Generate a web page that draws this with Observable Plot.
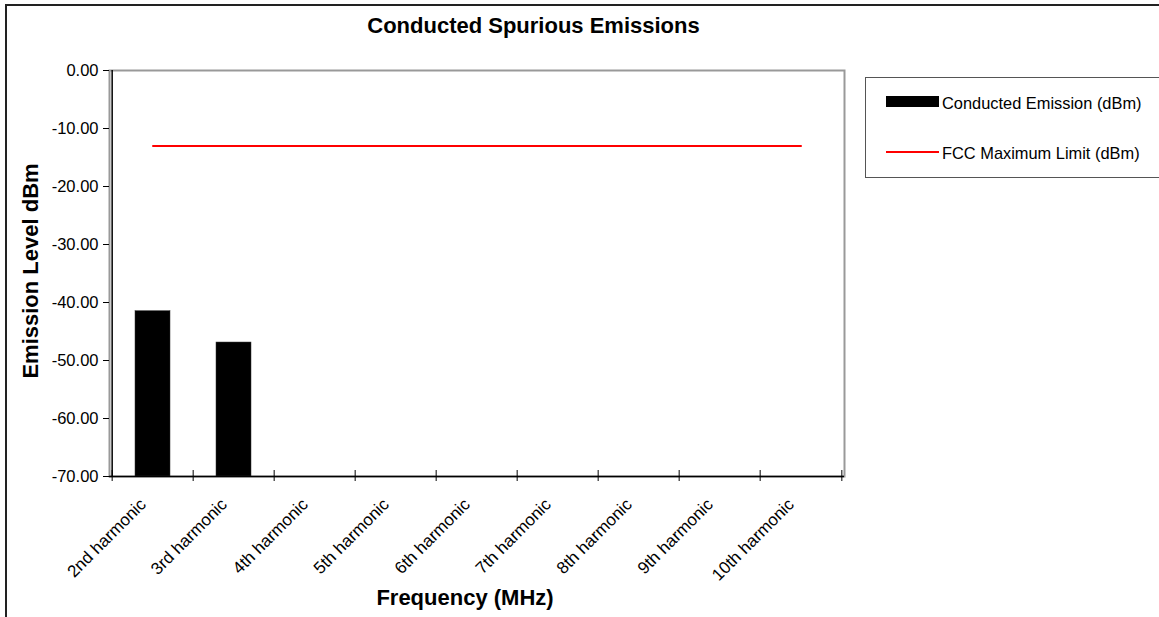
<!DOCTYPE html>
<html><head><meta charset="utf-8">
<script src="https://cdn.jsdelivr.net/npm/d3@7"></script>
<script src="https://cdn.jsdelivr.net/npm/@observablehq/plot@0.6"></script>
<style>
body{margin:0;overflow:hidden;background:#fff;font-family:"Liberation Sans",Arial,sans-serif;color:#000;}
#wrap{position:relative;width:1159px;height:617px;overflow:hidden;}
#border{position:absolute;left:5px;top:4px;width:1200px;height:640px;border:2px solid #222;box-sizing:border-box;pointer-events:none;}
.t{position:absolute;white-space:nowrap;line-height:1;}
#title{left:0;width:1067px;text-align:center;top:14.5px;font-weight:bold;font-size:22px;}
#xtitle{left:0;width:930px;text-align:center;top:586.5px;font-weight:bold;font-size:22px;}
#ytitle{left:30.5px;top:271px;font-weight:bold;font-size:22px;transform:translate(-50%,-50%) rotate(-90deg);}
#legend{position:absolute;left:865px;top:77px;width:330px;height:101px;border:1.5px solid #555;box-sizing:border-box;}
.sw{position:absolute;}
.lt{position:absolute;font-size:16.4px;line-height:1;white-space:nowrap;}
#chart{position:absolute;left:0;top:0;}
</style></head><body>
<div id="wrap">
  <div id="chart"></div>
  <div id="border"></div>
  <div class="t" id="title">Conducted Spurious Emissions</div>
  <div class="t" id="ytitle">Emission Level dBm</div>
  <div class="t" id="xtitle">Frequency (MHz)</div>
  <div id="legend"></div>
</div>
<script>
const harmonics = ["2nd harmonic","3rd harmonic","4th harmonic","5th harmonic","6th harmonic","7th harmonic","8th harmonic","9th harmonic","10th harmonic"];
const emission = [-41.5, -46.9, null, null, null, null, null, null, null];
const fccLimit = [-13, -13, -13, -13, -13, -13, -13, -13, -13];
const yTicks = [0, -10, -20, -30, -40, -50, -60, -70];
const yDomain = [-70, 0];
const seriesNames = ["Conducted Emission (dBm)", "FCC Maximum Limit (dBm)"];
const seriesColors = ["#000000", "#ff0000"];

const rows = harmonics.map((h, i) => ({h, emission: emission[i], limit: fccLimit[i]}));

const W = 1159, H = 617, mL = 109, mT = 70, mR = 315, mB = 141;
const step = (W - mL - mR) / harmonics.length;

const plot = Plot.plot({
  width: W, height: H,
  marginLeft: mL, marginTop: mT, marginRight: mR, marginBottom: mB,
  style: {fontFamily: "'Liberation Sans', Arial, sans-serif", fontSize: "16px", background: "transparent", color: "#000"},
  x: {domain: harmonics, type: "band", paddingInner: 0.571, paddingOuter: 0.2855, axis: null},
  y: {domain: yDomain, axis: null},
  marks: [
    Plot.frame({stroke: "#999", strokeWidth: 2}),
    Plot.barY(rows.filter(d => d.emission != null), {x: "h", y1: yDomain[0], y2: "emission", fill: seriesColors[0], stroke: "#333", strokeWidth: 0.5}),
    Plot.ruleY([yDomain[0]], {stroke: "#000", strokeWidth: 1.5}),
    Plot.ruleX([harmonics[0]], {x: d => d, dx: -step / 2, stroke: "#000", strokeWidth: 1.5}),
    Plot.ruleX(harmonics, {x: d => d, y1: yDomain[0], y2: yDomain[0], insetTop: -6, insetBottom: -5, dx: -step / 2, stroke: "#000", strokeWidth: 1}),
    Plot.ruleX([harmonics[harmonics.length - 1]], {x: d => d, y1: yDomain[0], y2: yDomain[0], insetTop: -6, insetBottom: -5, dx: step / 2, stroke: "#000", strokeWidth: 1}),
    Plot.axisY({ticks: yTicks, tickSize: 6, tickPadding: 5, tickFormat: d => d.toFixed(2), fontSize: 16.5, label: null, anchor: "left", stroke: "#000", fill: "#000"}),
    Plot.lineY(rows, {x: "h", y: "limit", stroke: seriesColors[1], strokeWidth: 2}),
    Plot.text(harmonics, {x: d => d, frameAnchor: "bottom", rotate: -45, textAnchor: "end", dx: -6, dy: 29, fontSize: 17, fill: "#000"})
  ]
});
document.getElementById("chart").appendChild(plot);

// legend
const lg = document.getElementById("legend");
seriesNames.forEach((name, i) => {
  const sw = document.createElement("div");
  sw.className = "sw";
  sw.style.left = (885 - 865) + "px";
  sw.style.width = "53px";
  sw.style.background = seriesColors[i];
  if (i === 0) { sw.style.top = (96 - 78) + "px"; sw.style.height = "11px"; }
  else { sw.style.top = (151 - 78) + "px"; sw.style.height = "2px"; }
  lg.appendChild(sw);
  const t = document.createElement("div");
  t.className = "lt";
  t.textContent = name;
  t.style.left = (941 - 865) + "px";
  t.style.top = (i === 0 ? 94.5 - 78 : 144.5 - 78) + "px";
  lg.appendChild(t);
});
</script>
</body></html>
